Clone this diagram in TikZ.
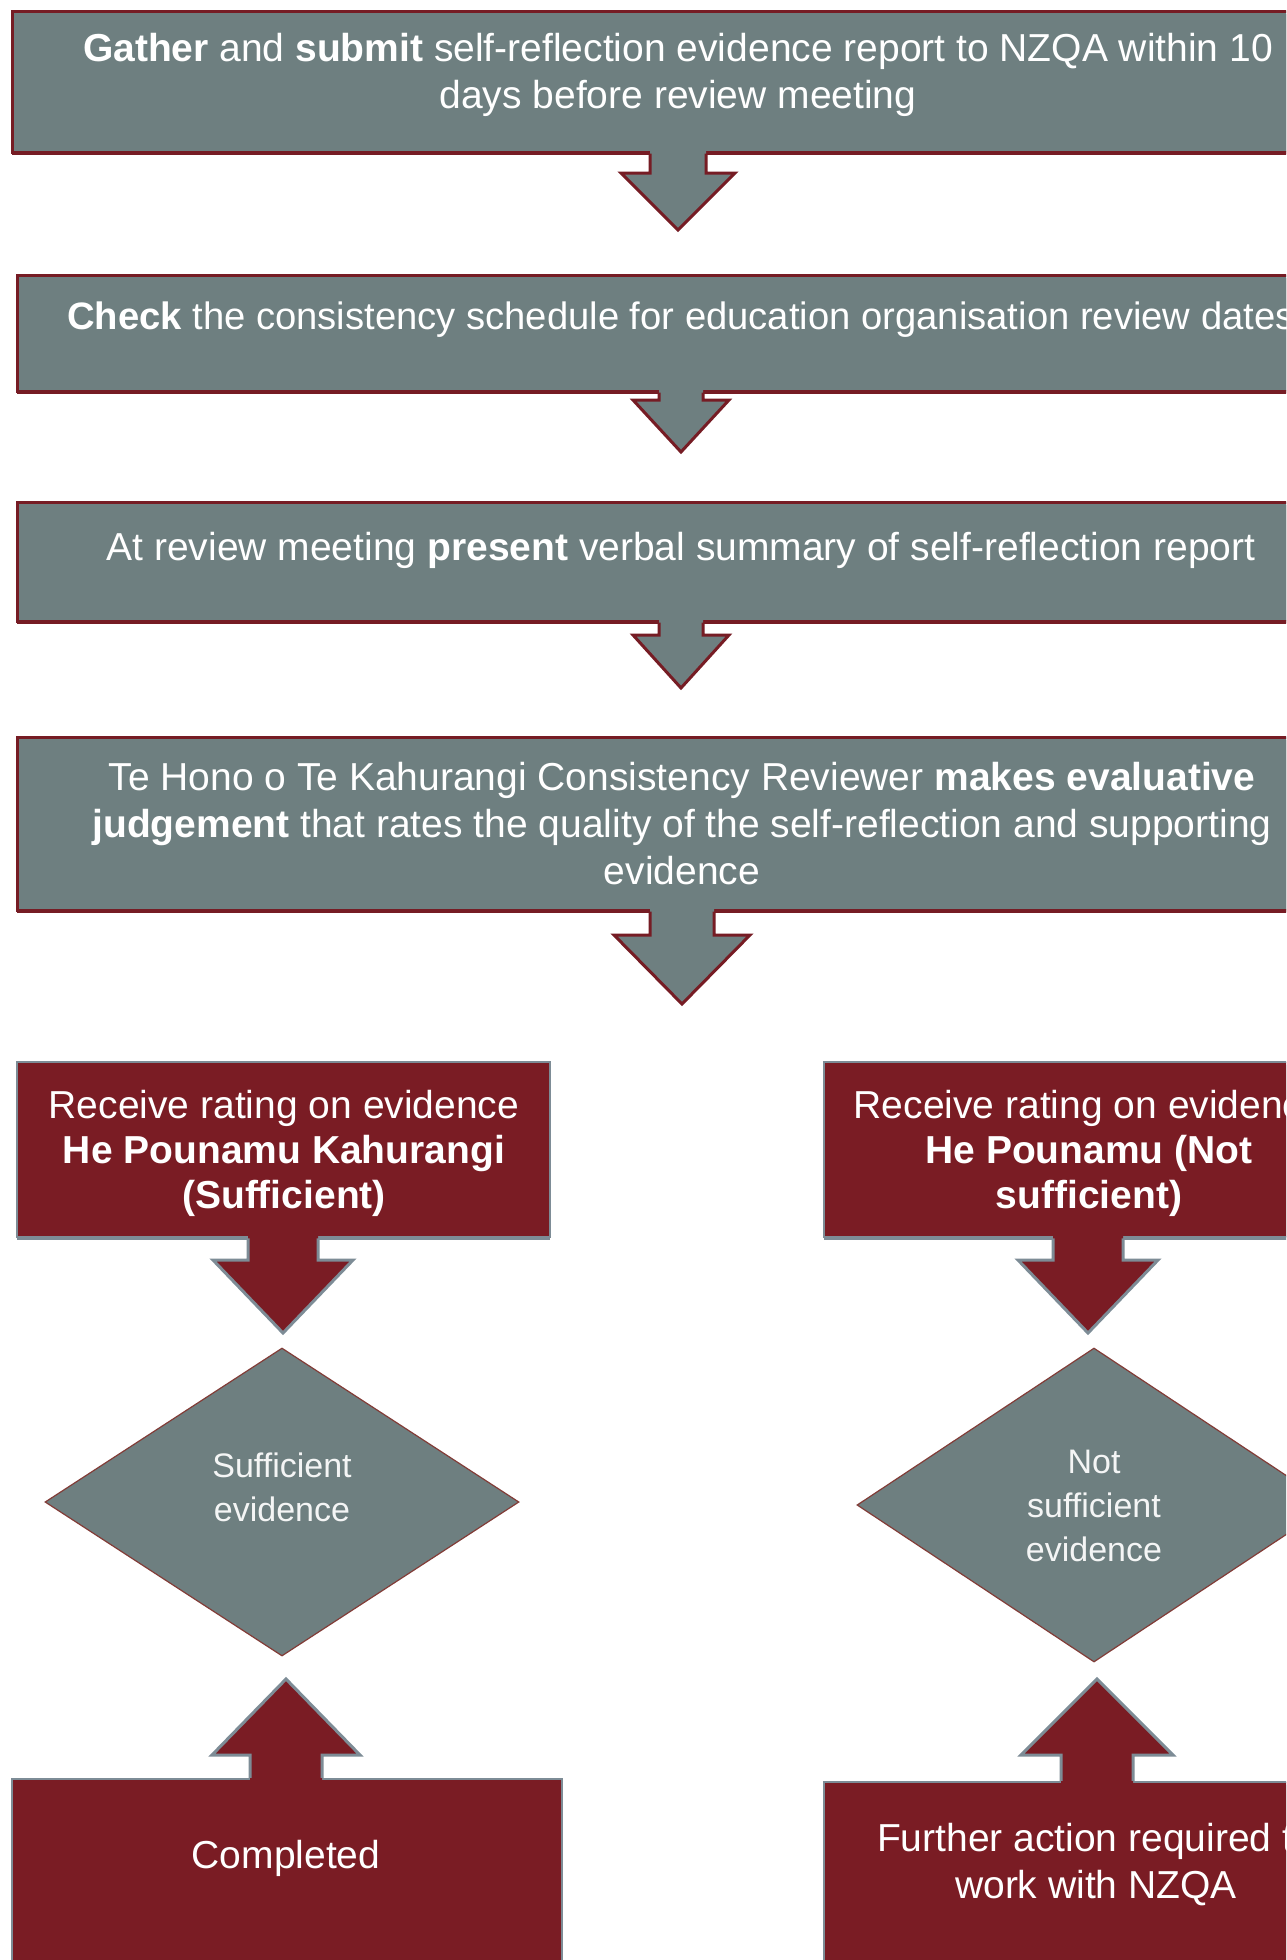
\documentclass[tikz,border=0pt]{standalone}
\usepackage{fontspec}
\setmainfont{Liberation Sans}
\usetikzlibrary{calc,shapes.geometric,shadows}
\definecolor{slate}{RGB}{110,127,128}
\definecolor{maroonfill}{RGB}{122,28,36}
\definecolor{maroonedge}{RGB}{118,28,36}
\definecolor{greyedge}{RGB}{125,140,150}
\definecolor{diaedge}{RGB}{130,60,55}
\tikzset{
  greybox/.style={rectangle, fill=slate, draw=maroonedge, line width=3pt, inner sep=0pt,
    drop shadow={shadow xshift=0pt, shadow yshift=-3pt, fill=maroonedge, opacity=1}},
  redbox/.style={rectangle, fill=maroonfill, draw=greyedge, line width=2.5pt, inner sep=0pt,
    drop shadow={shadow xshift=0pt, shadow yshift=-3pt, fill=greyedge, opacity=1}},
  txt/.style={text=white, align=center, font=\fontsize{39}{47}\selectfont, inner sep=0pt},
  txtr/.style={text=white, align=center, font=\fontsize{39}{45}\selectfont, inner sep=0pt},
  dtxt/.style={text=white!92!slate, align=center, font=\fontsize{34}{44}\selectfont, inner sep=0pt},
  dia/.style={diamond, fill=slate, draw=diaedge, line width=1.2pt, inner sep=0pt},
}
% #1 source node, #2 tip coordinate, #3 shaft half width, #4 head half width, #5 head length, #6 fill, #7 edge
\newcommand\arrowdown[7]{%
  \fill[#6] let \p1=(#1.south), \p2=(#2) in
    (\x2-#3,\y1+6pt) -- (\x2-#3,\y2+#5) -- (\x2-#4,\y2+#5) -- (\x2,\y2)
    -- (\x2+#4,\y2+#5) -- (\x2+#3,\y2+#5) -- (\x2+#3,\y1+6pt) -- cycle;
  \draw[#7, line width=3pt] let \p1=(#1.south), \p2=(#2) in
    (\x2-#3,\y1) -- (\x2-#3,\y2+#5) -- (\x2-#4,\y2+#5) -- (\x2,\y2)
    -- (\x2+#4,\y2+#5) -- (\x2+#3,\y2+#5) -- (\x2+#3,\y1);
}
\newcommand\arrowup[7]{%
  \fill[#6] let \p1=(#1.north), \p2=(#2) in
    (\x2-#3,\y1-6pt) -- (\x2-#3,\y2-#5) -- (\x2-#4,\y2-#5) -- (\x2,\y2)
    -- (\x2+#4,\y2-#5) -- (\x2+#3,\y2-#5) -- (\x2+#3,\y1-6pt) -- cycle;
  \draw[#7, line width=3pt] let \p1=(#1.north), \p2=(#2) in
    (\x2-#3,\y1) -- (\x2-#3,\y2-#5) -- (\x2-#4,\y2-#5) -- (\x2,\y2)
    -- (\x2+#4,\y2-#5) -- (\x2+#3,\y2-#5) -- (\x2+#3,\y1);
}
\begin{document}
\begin{tikzpicture}[x=1pt,y=-1pt]
\useasboundingbox (0,0) rectangle (1286,1960);
\clip (0,0) rectangle (1286,1960);
\fill[white] (0,0) rectangle (1286,1960);

% boxes
\node[greybox, minimum width=1332pt, minimum height=141pt] (b1) at (678,81.5) {};
\node[greybox, minimum width=1328pt, minimum height=116pt] (b2) at (681,333) {};
\node[greybox, minimum width=1328pt, minimum height=119pt] (b3) at (681,561.5) {};
\node[greybox, minimum width=1330pt, minimum height=173pt] (b4) at (682,823.5) {};
\node[redbox, minimum width=533pt, minimum height=175pt] (b5) at (283.5,1149.5) {};
\node[redbox, minimum width=528pt, minimum height=175pt] (b6) at (1088,1149.5) {};
\node[redbox, minimum width=550pt, minimum height=260pt] (b7) at (287,1909) {};
\node[redbox, minimum width=546pt, minimum height=260pt] (b8) at (1097,1912) {};
\node[dia, minimum width=474pt, minimum height=308pt] (d1) at (282,1502) {};
\node[dia, minimum width=474pt, minimum height=314pt] (d2) at (1094,1505) {};

% arrow tips
\coordinate (tip1) at (678,230);
\coordinate (tip2) at (681,452);
\coordinate (tip3) at (681,688);
\coordinate (tip4) at (682,1004);
\coordinate (tip5) at (283,1333);
\coordinate (tip6) at (1088,1333);
\coordinate (tip7) at (286,1679);
\coordinate (tip8) at (1097,1679);

\arrowdown{b1}{tip1}{28pt}{57pt}{57pt}{slate}{maroonedge}
\arrowdown{b2}{tip2}{22pt}{48pt}{52pt}{slate}{maroonedge}
\arrowdown{b3}{tip3}{22pt}{48pt}{53pt}{slate}{maroonedge}
\arrowdown{b4}{tip4}{32pt}{68pt}{69pt}{slate}{maroonedge}
\arrowdown{b5}{tip5}{35pt}{70pt}{73pt}{maroonfill}{greyedge}
\arrowdown{b6}{tip6}{35pt}{70pt}{73pt}{maroonfill}{greyedge}
\arrowup{b7}{tip7}{36pt}{74pt}{76pt}{maroonfill}{greyedge}
\arrowup{b8}{tip8}{36pt}{76pt}{76pt}{maroonfill}{greyedge}

% texts
\node[txt] (t1) at (678,75) {\textbf{Gather} and \textbf{submit} self-reflection evidence report to NZQA within 10\\days before review meeting};
\node[txt, font=\fontsize{38.2}{47}\selectfont] (t2) at (681,320) {\textbf{Check} the consistency schedule for education organisation review dates};
\node[txt] (t3) at (681,550) {At review meeting \textbf{present} verbal summary of self-reflection report};
\node[txt] (t4) at (682,824) {Te Hono o Te Kahurangi Consistency Reviewer \textbf{makes evaluative}\\\textbf{judgement} that rates the quality of the self-reflection and supporting\\evidence};
\node[txtr] (t5) at (284,1153) {Receive rating on evidence\\\textbf{He Pounamu Kahurangi}\\\textbf{(Sufficient)}};
\node[txtr] (t6) at (1089,1153) {Receive rating on evidence\\\textbf{He Pounamu (Not}\\\textbf{sufficient)}};
\node[dtxt] (t9) at (282,1487) {Sufficient\\evidence};
\node[dtxt] (t10) at (1094,1506) {Not\\sufficient\\evidence};
\node[txt] (t7) at (286,1858) {Completed};
\node[txt] (t8) at (1096,1865) {Further action required to\\work with NZQA};
\end{tikzpicture}
\end{document}
